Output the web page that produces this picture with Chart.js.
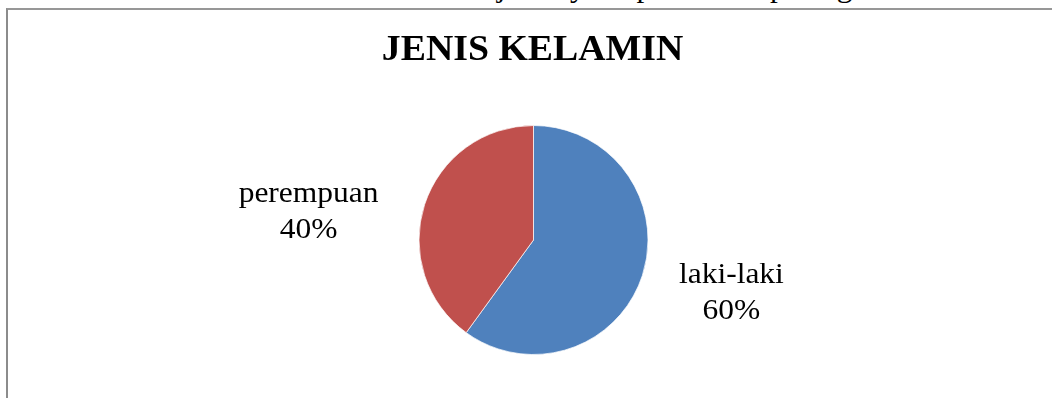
<!DOCTYPE html>
<html>
<head>
<meta charset="utf-8">
<script src="https://cdn.jsdelivr.net/npm/chart.js@4.4.1/dist/chart.umd.min.js"></script>
<style>
  html, body { margin: 0; padding: 0; background: #fff; width: 1052px; height: 398px; overflow: hidden; }
  #bodytext {
    position: absolute; left: 83px; top: -28px; white-space: nowrap;
    font-family: "Liberation Serif", "Times New Roman", serif; font-size: 30px; line-height: 30px;
    color: #000; transform: scaleX(1.04); transform-origin: left top;
  }
  #frame {
    position: absolute; left: 6px; top: 8px; width: 1100px; height: 450px;
    border-left: 2px solid #8c8c8c; border-top: 2px solid #979797; background: #fff;
  }
  #wrap { position: absolute; left: 0; top: 0; width: 1052px; height: 398px; }
</style>
</head>
<body>
<div id="bodytext">Berdasarkan tabel 3 di atas lebih jelasnya dapat dilihat pada gambar berikut ini</div>
<div id="frame"></div>
<div id="wrap"><canvas id="c" width="1052" height="398"></canvas></div>
<script>
const chartTitle = "JENIS KELAMIN";
const categories = ["laki-laki", "perempuan"];
const values = [60, 40];
const percentLabels = ["60%", "40%"];
const colors = ["#4F81BD", "#C0504D"];

const FONT = '"Liberation Serif"';

function stretchedText(ctx, text, x, y, font, sx) {
  ctx.save();
  ctx.font = font;
  ctx.textBaseline = 'alphabetic';
  ctx.textAlign = 'center';
  ctx.translate(x, y);
  ctx.scale(sx, 1);
  ctx.fillText(text, 0, 0);
  ctx.restore();
}

const labelPlugin = {
  id: 'excelLabels',
  afterDraw(chart) {
    const ctx = chart.ctx;
    ctx.fillStyle = '#000';
    stretchedText(ctx, chartTitle, 532.5, 60, 'bold 35px ' + FONT, 1.08);
    const meta = chart.getDatasetMeta(0);
    meta.data.forEach((arc, i) => {
      const p = arc.getProps(['x', 'y', 'startAngle', 'endAngle', 'outerRadius'], true);
      const mid = (p.startAngle + p.endAngle) / 2;
      const ex = p.x + Math.cos(mid) * p.outerRadius;
      const ey = p.y + Math.sin(mid) * p.outerRadius;
      const left = Math.cos(mid) < 0;
      const cx = left ? ex - 116 : ex + 89;
      const y1 = left ? ey - 2.9 : ey + 7.6;
      const f = '30px ' + FONT;
      stretchedText(ctx, categories[i], cx, y1, f, 1.05);
      stretchedText(ctx, percentLabels[i], cx, y1 + 36.3, f, 1.05);
    });
  }
};

function build() {
  new Chart(document.getElementById('c'), {
    type: 'pie',
    data: {
      labels: categories,
      datasets: [{
        data: values,
        backgroundColor: colors,
        borderColor: '#ffffff',
        borderWidth: 0.7,
        radius: 114.5
      }]
    },
    options: {
      responsive: false,
      animation: false,
      events: [],
      layout: { padding: { left: 15, right: 0, top: 82, bottom: 0 } },
      plugins: {
        legend: { display: false },
        title: { display: false },
        tooltip: { enabled: false }
      }
    },
    plugins: [labelPlugin]
  });
}
Promise.all([
  document.fonts.load('30px "Liberation Serif"'),
  document.fonts.load('bold 35px "Liberation Serif"')
]).then(build, build);
</script>
</body>
</html>
